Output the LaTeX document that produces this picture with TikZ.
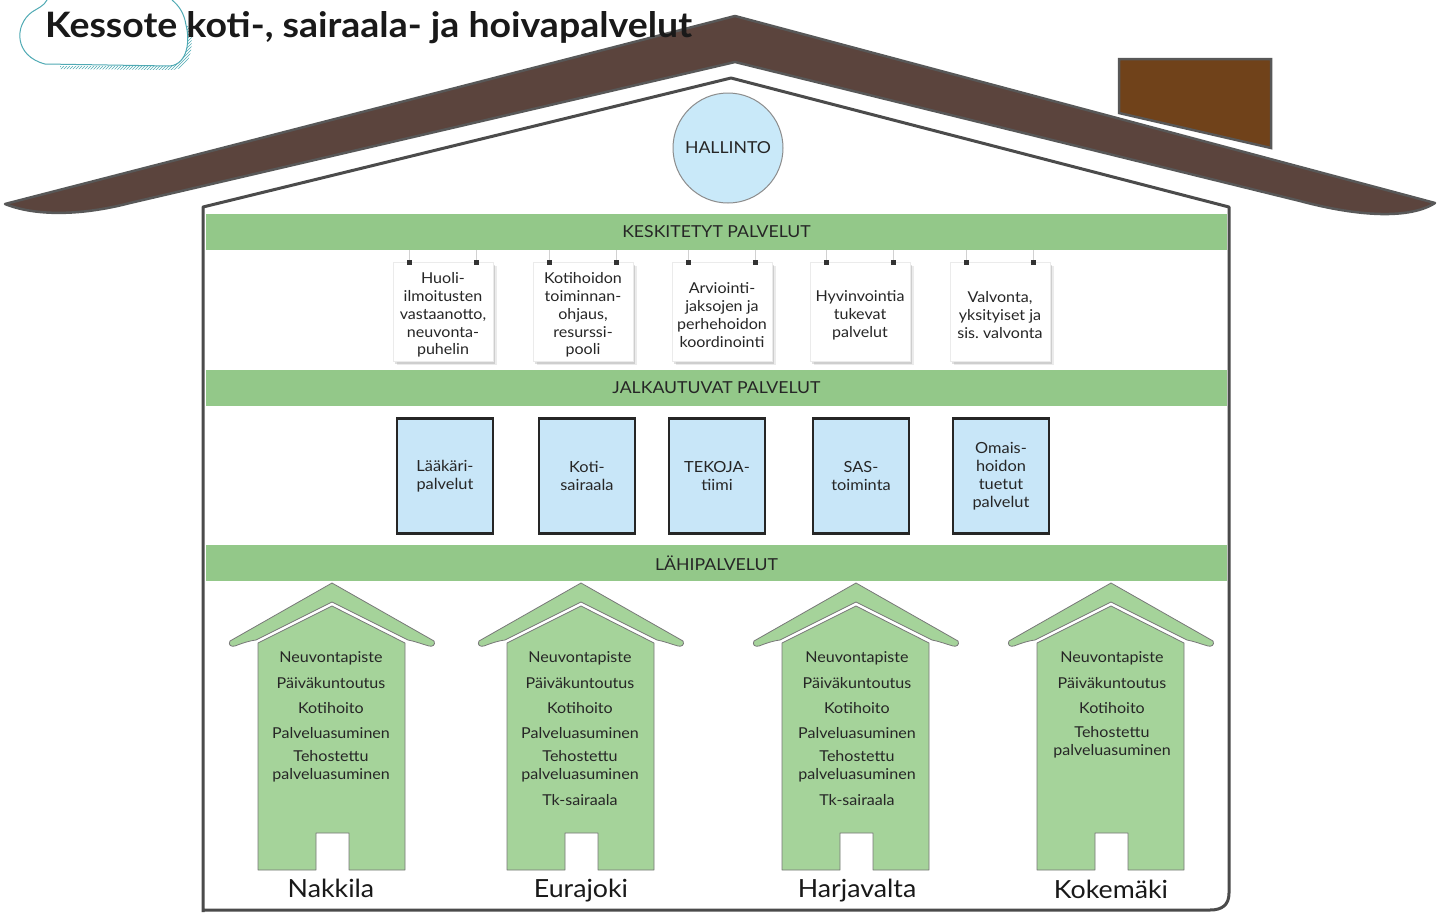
\documentclass[tikz,border=0pt]{standalone}
\usepackage{fontspec}
\setmainfont{Lato}[FakeStretch=1.07]
\usetikzlibrary{shadows,patterns}
\frenchspacing
\definecolor{roofbrown}{RGB}{91,68,61}
\definecolor{chimneybrown}{RGB}{112,66,26}
\definecolor{edgegray}{RGB}{88,88,88}
\definecolor{wallgray}{RGB}{75,75,75}
\definecolor{bandgreen}{RGB}{147,200,137}
\definecolor{housegreen}{RGB}{165,211,154}
\definecolor{hedge}{RGB}{120,120,120}
\definecolor{lightblue}{RGB}{200,230,248}
\definecolor{circleblue}{RGB}{201,233,249}
\definecolor{txt}{RGB}{38,38,38}
\definecolor{cloudteal}{RGB}{80,170,180}
\tikzset{
  bandbar/.style={fill=bandgreen, minimum width=1021pt, minimum height=36pt, inner sep=0pt, font=\fontsize{16.5}{18}\selectfont, text=txt},
  paper/.style={fill=white, draw=black!8, line width=0.5pt, minimum width=100pt, minimum height=99pt, inner sep=0pt,
    drop shadow={shadow xshift=1pt, shadow yshift=-1pt, opacity=0.12, fill=black},
    drop shadow={shadow xshift=2pt, shadow yshift=-2.5pt, opacity=0.12, fill=black},
    drop shadow={shadow xshift=3.5pt, shadow yshift=-4pt, opacity=0.08, fill=black}},
  notetext/.style={align=center, inner sep=0pt, font=\fontsize{15}{17.8}\selectfont, text=txt},
  tack/.style={fill=black!80, minimum size=5pt, inner sep=0pt, rectangle},
  string/.style={draw=black!18, line width=0.8pt},
  bluebox/.style={fill=lightblue, draw=black!85, line width=2.5pt, minimum width=96pt, minimum height=115pt, align=center, font=\fontsize{15.3}{18}\selectfont, text=txt},
  item/.style={font=\fontsize{15}{18}\selectfont, text=txt, align=center, inner sep=0pt},
  town/.style={font=\fontsize{25}{28}\selectfont, text=black!90, inner sep=0pt, anchor=base},
  smallhouse/.pic={
    \draw[fill=housegreen, draw=hedge, line width=0.8pt, line join=round]
      (-102,641) -- (0,583) -- (102,641) .. controls (104,645) and (100,647) .. (97,646)
      .. controls (90,644) and (82,641) .. (76,640) -- (0,602) -- (-76,640)
      .. controls (-84,641) and (-92,644) .. (-97,646) .. controls (-101,647) and (-104,645) .. (-102,641) -- cycle;
    \draw[fill=housegreen, draw=hedge, line width=0.8pt, line join=round]
      (-74,870) -- (-74,643) -- (0,606) -- (73,643) -- (73,870) -- (17,870) -- (17,833) -- (-16,833) -- (-16,870) -- cycle;
  }
}
\begin{document}
\begin{tikzpicture}[x=1pt,y=-1pt]
\useasboundingbox (0,0) rectangle (1437,913);
\fill[white] (0,0) rectangle (1437,913);

% title cloud
\fill[pattern=north east lines, pattern color=cloudteal]
  (60,66) -- (170,66) .. controls (188,64) and (190,40) .. (186,25) -- (190,27)
  .. controls (194,45) and (192,69) .. (172,70) -- (60,69) -- cycle;
\draw[cloudteal, line width=1pt] (47,0) .. controls (44,6) and (38,8) .. (32,12)
  .. controls (14,25) and (14,56) .. (45,64) -- (170,66)
  .. controls (188,64) and (190,40) .. (186,25) .. controls (184,12) and (178,5) .. (172,0);

% roof
\draw[fill=roofbrown, draw=edgegray, line width=2.5pt, line join=round]
  (5,204) -- (735,16) -- (1435,203)
  .. controls (1410,219) and (1360,217) .. (1300,201) -- (735,62) -- (130,203)
  .. controls (80,216) and (35,216) .. (5,204) -- cycle;
% chimney
\draw[fill=chimneybrown, draw=edgegray, line width=2.5pt] (1119,59) -- (1271,59) -- (1271,148) -- (1119,113) -- cycle;

% title (on top of roof)
\node[anchor=base west, font=\fontsize{35}{40}\selectfont\bfseries, text=black!90, inner sep=0pt] (title) at (45,37) {Kessote koti-, sairaala- ja hoivapalvelut};

% walls
\draw[draw=wallgray, line width=3pt, line join=round]
  (203,912) -- (203,207) -- (731,78) -- (1229,207) -- (1229,893)
  .. controls (1229,905) and (1222,910) .. (1210,910) -- (203,910);

% hallinto
\node[circle, minimum size=110pt, fill=circleblue, draw=black!45, line width=1pt, font=\fontsize{16.5}{18}\selectfont, text=txt] (hall) at (728,148) {HALLINTO};

% bands
\node[bandbar] (kband) at (716.5,232) {KESKITETYT PALVELUT};
\node[bandbar] (jband) at (716.5,388) {JALKAUTUVAT PALVELUT};
\node[bandbar] (lband) at (716.5,563) {LÄHIPALVELUT};

% notes
\foreach \n/\cx in {1/443,2/583,3/722,4/860,5/1000}{
  \node[paper] (n\n) at (\cx,311.5) {};
  \node[tack] (t\n a) at ([xshift=-34pt,yshift=-1pt]n\n.north) {};
  \node[tack] (t\n b) at ([xshift=33pt,yshift=-1pt]n\n.north) {};
  \coordinate (s\n a) at (t\n a |- kband.south);
  \coordinate (s\n b) at (t\n b |- kband.south);
  \draw[string] (s\n a) -- (t\n a);
  \draw[string] (s\n b) -- (t\n b);
}
\node[notetext] (n1t) at (443,315) {Huoli-\\ilmoitusten\\vastaanotto,\\neuvonta-\\puhelin};
\node[notetext] (n2t) at (583,315) {Kotihoidon\\toiminnan-\\ohjaus,\\resurssi-\\pooli};
\node[notetext] (n3t) at (722,315) {Arviointi-\\jaksojen ja\\perhehoidon\\koordinointi};
\node[notetext] (n4t) at (860,315) {Hyvinvointia\\tukevat\\palvelut};
\node[notetext] (n5t) at (1000,315) {Valvonta,\\yksityiset ja\\sis. valvonta};

% blue boxes
\node[bluebox] (b1) at (445,476) {Lääkäri-\\palvelut};
\node[bluebox] (b2) at (587,476) {Koti-\\sairaala};
\node[bluebox] (b3) at (717,476) {TEKOJA-\\tiimi};
\node[bluebox] (b4) at (861,476) {SAS-\\toiminta};
\node[bluebox] (b5) at (1001,476) {Omais-\\hoidon\\tuetut\\palvelut};

% small houses
\pic at (332,0) {smallhouse};
\pic at (581,0) {smallhouse};
\pic at (856,0) {smallhouse};
\pic at (1111,0) {smallhouse};

\foreach \h/\cx in {a/331,b/580,c/857,d/1112}{
  \node[item] (\h1) at (\cx,658) {Neuvontapiste};
  \node[item] (\h2) at (\cx,683) {Päiväkuntoutus};
  \node[item] (\h3) at (\cx,708) {Kotihoito};
}
\foreach \h/\cx in {a/331,b/580,c/857}{
  \node[item] (\h4) at (\cx,733) {Palveluasuminen};
  \node[item] (\h5) at (\cx,766.5) {Tehostettu\\palveluasuminen};
}
\node[item] (b6) at (580,800) {Tk-sairaala};
\node[item] (c6) at (857,800) {Tk-sairaala};
\node[item] (d4) at (1112,742) {Tehostettu\\palveluasuminen};

\node[town] (nakkila) at (331,897) {Nakkila};
\node[town] (eurajoki) at (581,897) {Eurajoki};
\node[town] (harjavalta) at (857,897) {Harjavalta};
\node[town] (kokemaki) at (1111,898) {Kokemäki};
\end{tikzpicture}
\end{document}
